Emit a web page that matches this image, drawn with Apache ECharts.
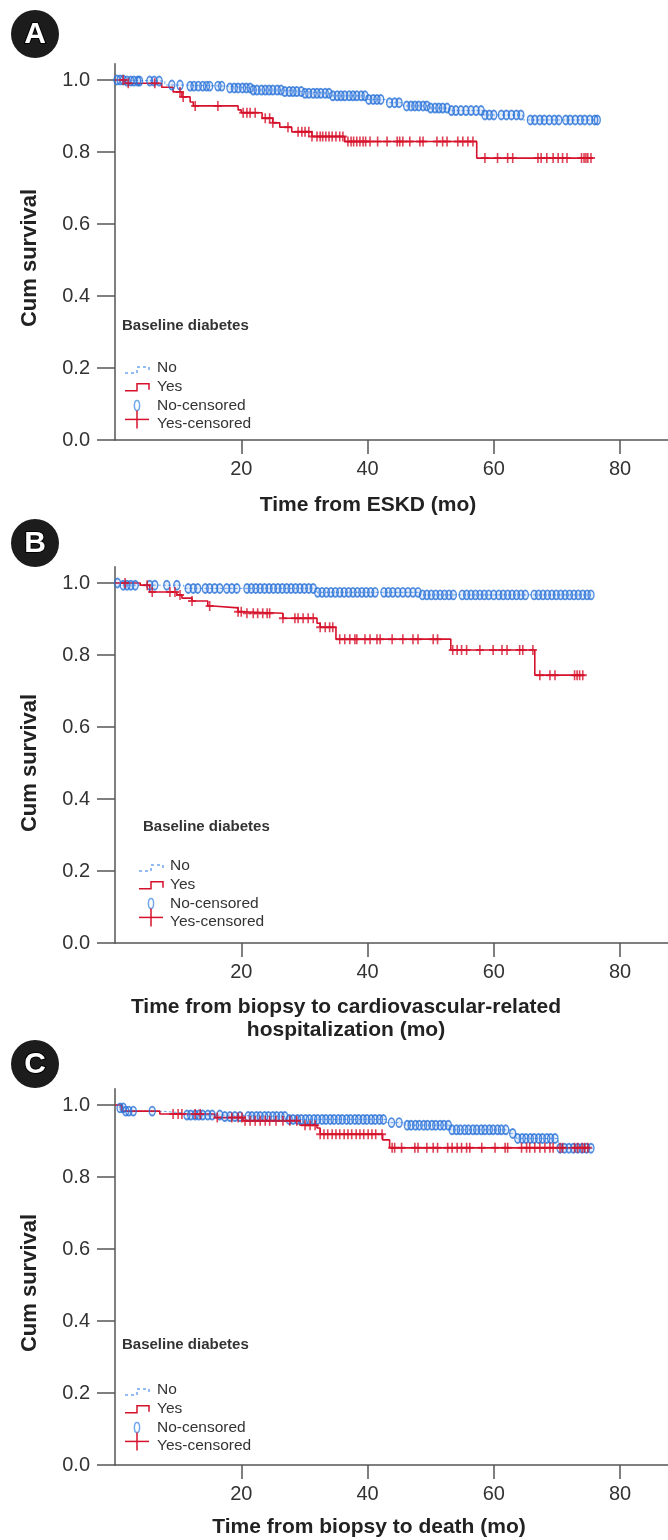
<!DOCTYPE html>
<html>
<head>
<meta charset="utf-8">
<script src="https://cdn.jsdelivr.net/npm/echarts@6/dist/echarts.min.js"></script>
<style>
  html, body { margin: 0; padding: 0; background: #fff; }
  #chart { width: 668px; height: 1540px; }
</style>
</head>
<body>
<div id="chart"></div>
<script>
// ---- data (time in months, cumulative survival) ----
const xTicks = [20, 40, 60, 80];
const yTicks = [0, 0.2, 0.4, 0.6, 0.8, 1.0];
const legendItems = ['No', 'Yes', 'No-censored', 'Yes-censored'];
const legendTitle = 'Baseline diabetes';
const panelLetters = ['A', 'B', 'C'];
const xTitles = ['Time from ESKD (mo)', 'Time from biopsy to cardiovascular-related\nhospitalization (mo)', 'Time from biopsy to death (mo)'];
const yTitle = 'Cum survival';

// A: ESKD
const aYesT = [0, 1.6, 7.4, 9.2, 10.6, 11.9, 12.4, 19.5, 20.0, 23.3, 25.0, 26.1, 28.0, 31.2, 36.4, 57.3, 75.7];
const aYesS = [1.0, 0.991, 0.980, 0.967, 0.953, 0.939, 0.928, 0.917, 0.909, 0.894, 0.881, 0.869, 0.856, 0.843, 0.829, 0.783, 0.783];
const aYesCens = [1.3, 2.1, 6.3, 10.3, 10.8, 12.7, 16.3, 20.3, 20.9, 21.4, 22.2, 23.8, 24.5, 25.0, 27.4, 29.0, 29.6, 30.1, 30.7, 31.2,
  32.0, 32.5, 32.9, 33.4, 33.9, 34.4, 35.0, 35.6, 36.1, 36.9, 37.4, 37.8, 38.3, 38.8, 39.3, 39.7, 40.4, 41.6, 43.1, 44.7, 45.1,
  45.6, 46.7, 48.3, 48.8, 51.0, 51.9, 52.6, 54.3, 55.1, 55.9, 56.7, 58.6, 60.6, 62.2, 63.0, 67.0, 67.5, 68.4, 69.4, 70.2, 70.9,
  71.6, 73.9, 74.3, 74.6, 74.9, 75.4];
const aNoT = [0, 1.6, 7.9, 11.1, 17.6, 21.5, 26.6, 29.8, 34.0, 39.9, 43.1, 45.6, 49.9, 53.0, 58.3, 64.6, 76.5];
const aNoS = [1.0, 0.997, 0.986, 0.983, 0.978, 0.972, 0.968, 0.963, 0.956, 0.946, 0.937, 0.928, 0.922, 0.915, 0.903, 0.889, 0.889];
const aNoCens = [0.3, 0.8, 1.3, 1.9, 2.5, 3.0, 3.6, 3.9, 5.5, 6.2, 7.0, 9.0, 10.3, 11.9, 12.5, 13.2, 13.9, 14.5, 15.0, 16.3, 16.9,
  18.2, 18.9, 19.5, 20.2, 20.8, 21.4, 21.9, 22.5, 23.2, 23.8, 24.4, 25.0, 25.7, 26.3, 26.9, 27.6, 28.2, 28.8, 29.5, 30.1, 30.7,
  31.4, 32.0, 32.6, 33.3, 33.9, 34.5, 35.2, 35.8, 36.4, 37.1, 37.7, 38.3, 39.0, 39.6, 40.2, 40.9, 41.5, 42.1, 43.5, 44.3, 45.0,
  46.2, 46.9, 47.5, 48.1, 48.8, 49.4, 50.0, 50.7, 51.3, 51.9, 52.6, 53.3, 54.0, 54.8, 55.6, 56.4, 57.2, 58.0, 58.6, 59.3, 60.0,
  61.2, 62.0, 62.8, 63.6, 64.3, 65.8, 66.5, 67.3, 68.0, 68.8, 69.6, 70.3, 71.4, 72.1, 72.9, 73.7, 74.4, 75.2, 76.0, 76.4];

// B: cardiovascular-related hospitalization
const bYesT = [0, 4.0, 5.5, 9.8, 10.6, 12.2, 14.7, 15.5, 19.5, 20.3, 26.6, 32.0, 32.5, 35.0, 53.2, 66.5, 74.4];
const bYesS = [1.0, 0.994, 0.975, 0.967, 0.958, 0.950, 0.936, 0.931, 0.920, 0.916, 0.902, 0.888, 0.877, 0.844, 0.814, 0.744, 0.744];
const bYesCens = [1.6, 5.1, 5.9, 8.7, 9.5, 10.3, 12.2, 15.0, 19.5, 20.0, 20.9, 21.9, 22.6, 23.4, 24.1, 24.5, 26.6, 28.5, 29.0,
  29.8, 30.6, 31.4, 32.5, 33.3, 34.0, 34.5, 35.6, 36.4, 37.2, 38.0, 38.3, 39.6, 40.4, 41.5, 42.0, 43.9, 45.6, 47.2, 48.0, 50.4,
  51.1, 53.5, 54.2, 54.9, 55.7, 57.8, 59.9, 61.3, 62.1, 64.1, 64.6, 66.2, 67.3, 68.9, 69.7, 72.8, 73.2, 73.6, 74.1];
const bNoT = [0, 0.5, 10.9, 32.0, 48.3, 75.4];
const bNoS = [1.0, 0.994, 0.985, 0.974, 0.967, 0.967];
const bNoCens = [0.4, 1.3, 1.9, 2.5, 3.2, 5.5, 6.3, 8.2, 9.8, 11.6, 12.4, 13.1, 14.3, 15.0, 15.8, 16.6, 17.7, 18.5, 19.3,
  20.9, 21.6, 22.3, 23.0, 23.7, 24.4, 25.1, 25.8, 26.5, 27.2, 27.9, 28.6, 29.3, 30.0, 30.7, 31.4, 32.1, 32.8, 33.5, 34.2,
  34.9, 35.6, 36.3, 37.0, 37.7, 38.4, 39.1, 39.8, 40.5, 41.2, 42.6, 43.3, 44.0, 44.8, 45.6, 46.4, 47.2, 48.0, 48.7, 49.4,
  50.1, 50.8, 51.5, 52.2, 52.9, 53.6, 55.0, 55.7, 56.4, 57.1, 57.8, 58.5, 59.2, 60.0, 60.8, 61.5, 62.2, 62.9, 63.6, 64.3,
  65.0, 66.4, 67.1, 67.8, 68.5, 69.2, 69.9, 70.6, 71.3, 72.0, 72.7, 73.4, 74.1, 74.8, 75.4];

// C: death
const cYesT = [0, 1.1, 7.1, 15.8, 20.3, 29.3, 32.0, 32.5, 42.4, 43.5, 75.2];
const cYesS = [1.0, 0.983, 0.975, 0.965, 0.956, 0.944, 0.936, 0.919, 0.903, 0.881, 0.881];
const cYesCens = [9.2, 10.0, 10.6, 12.7, 13.5, 16.2, 18.5, 19.5, 20.1, 20.6, 21.4, 22.2, 23.0, 23.8, 24.5, 25.5, 26.6, 27.7,
  28.8, 30.1, 30.9, 31.7, 32.5, 33.1, 33.7, 34.4, 35.0, 35.6, 36.3, 36.9, 37.5, 38.2, 38.8, 39.4, 40.1, 40.7, 41.3, 42.3,
  43.9, 44.3, 45.4, 47.5, 48.0, 49.4, 50.4, 51.1, 52.7, 53.4, 54.2, 54.9, 55.7, 56.2, 58.1, 60.2, 61.8, 62.2, 64.4, 65.2,
  65.7, 66.5, 67.3, 68.1, 68.9, 69.4, 70.5, 70.9, 72.8, 73.3, 74.0, 74.4, 74.9];
const cNoT = [0, 0.8, 1.7, 7.0, 11.0, 17.0, 27.0, 43.0, 46.0, 53.0, 62.6, 63.6, 70.2, 75.7];
const cNoS = [1.0, 0.992, 0.983, 0.978, 0.972, 0.968, 0.960, 0.951, 0.944, 0.931, 0.921, 0.907, 0.880, 0.880];
const cNoCens = [0.8, 1.3, 1.7, 2.2, 2.9, 5.9, 11.4, 12.0, 12.7, 13.3, 13.9, 14.7, 15.4, 16.6, 17.4, 18.2, 19.0, 19.8,
  21.1, 21.7, 22.4, 23.0, 23.7, 24.3, 25.0, 25.6, 26.3, 26.9, 27.6, 28.2, 28.9, 29.5, 30.2, 30.8, 31.5, 32.1, 32.8, 33.4,
  34.1, 34.7, 35.4, 36.0, 36.7, 37.3, 38.0, 38.6, 39.3, 39.9, 40.6, 41.2, 41.9, 42.5, 43.8, 45.0, 46.3, 46.9, 47.6, 48.2,
  48.9, 49.5, 50.2, 50.8, 51.5, 52.1, 52.8, 53.4, 54.1, 54.7, 55.4, 56.0, 56.7, 57.3, 58.0, 58.6, 59.3, 59.9, 60.6, 61.2,
  61.9, 63.0, 63.8, 64.5, 65.1, 65.8, 66.4, 67.1, 67.7, 68.4, 69.0, 69.7, 70.5, 71.2, 71.9, 72.6, 73.3, 74.0, 74.7, 75.4];

const panels = [
  { yesT: aYesT, yesS: aYesS, yesC: aYesCens, noT: aNoT, noS: aNoS, noC: aNoCens },
  { yesT: bYesT, yesS: bYesS, yesC: bYesCens, noT: bNoT, noS: bNoS, noC: bNoCens },
  { yesT: cYesT, yesS: cYesS, yesC: cYesCens, noT: cNoT, noS: cNoS, noC: cNoCens },
];

// ---- layout ----
const FONT = '"Liberation Sans", Arial, Helvetica, sans-serif';
const RED = '#d6112b';
const BLUE = '#2872d8';
const LBLUE = '#70a8ee';
const AXIS = '#555';
const gridTops = [80, 583, 1105];   // pixel y of 1.0 in each panel
const unitH = 360;                  // pixels per 1.0 of survival
const yMax = 1.045;

function survAt(ts, ss, t) {
  let s = ss[0];
  for (let i = 0; i < ts.length; i++) {
    if (ts[i] <= t) s = ss[i];
  }
  return s;
}
function zip(ts, ss) { return ts.map((t, i) => [t, ss[i]]); }

const ELLIPSE = 'path://M5,0 A5,8 0 1,1 5,16 A5,8 0 1,1 5,0 Z';
const PLUS = 'path://M4,0 L6,0 L6,4 L10,4 L10,6 L6,6 L6,10 L4,10 L4,6 L0,6 L0,4 L4,4 Z';

const grids = [], xAxes = [], yAxes = [], series = [];
panels.forEach((p, i) => {
  grids.push({ left: 115, right: 0, top: gridTops[i] - (yMax - 1) * unitH, height: yMax * unitH });
  xAxes.push({
    type: 'value', gridIndex: i, min: 0, max: 87.6,
    axisLine: { show: true, lineStyle: { color: AXIS, width: 1.5 } },
    axisTick: { show: true, length: 14, customValues: xTicks, lineStyle: { color: AXIS, width: 1.5 } },
    axisLabel: { customValues: xTicks, fontSize: 20, fontFamily: FONT, color: '#333', margin: 19 },
    splitLine: { show: false }
  });
  yAxes.push({
    type: 'value', gridIndex: i, min: 0, max: yMax,
    axisLine: { show: true, lineStyle: { color: AXIS, width: 1.5 } },
    axisTick: { show: true, length: 18, customValues: yTicks, lineStyle: { color: AXIS, width: 1.5 } },
    axisLabel: { customValues: yTicks, formatter: v => v.toFixed(1), fontSize: 20, fontFamily: FONT, color: '#333', margin: 25 },
    splitLine: { show: false }
  });
  series.push({
    name: 'No', type: 'line', step: 'end', xAxisIndex: i, yAxisIndex: i,
    data: zip(p.noT, p.noS), showSymbol: false, z: 2,
    lineStyle: { color: LBLUE, width: 1, type: [3, 2] }
  });
  series.push({
    name: 'Yes', type: 'line', step: 'end', xAxisIndex: i, yAxisIndex: i,
    data: zip(p.yesT, p.yesS), showSymbol: false, z: 3,
    lineStyle: { color: RED, width: 1.6 }
  });
  series.push({
    name: 'No-censored', type: 'scatter', xAxisIndex: i, yAxisIndex: i, z: 4,
    data: p.noC.map(t => [t, survAt(p.noT, p.noS, t)]),
    symbol: ELLIPSE, symbolSize: [6, 9],
    itemStyle: { color: 'rgba(40,114,216,0.15)', borderColor: BLUE, borderWidth: 1.6 }
  });
  series.push({
    name: 'Yes-censored', type: 'scatter', xAxisIndex: i, yAxisIndex: i, z: 5,
    data: p.yesC.map(t => [t, survAt(p.yesT, p.yesS, t)]),
    symbol: PLUS, symbolSize: [8, 10],
    itemStyle: { color: RED }
  });
});

// ---- decorations: panel badges, axis titles, legends ----
const graphic = [];
const badgeY = [34, 543, 1064];
const yTitleY = [258, 763, 1283];
const xTitlePos = [[368, 505], [346, 1019], [369, 1527]];
const legendPos = [
  { tx: 122, ty: 326, ix: 125, textX: 157, y0: 368 },
  { tx: 143, ty: 827, ix: 139, textX: 170, y0: 866 },
  { tx: 122, ty: 1345, ix: 125, textX: 157, y0: 1390 },
];
const rowGap = 18.7;

panelLetters.forEach((L, i) => {
  graphic.push({ type: 'circle', shape: { cx: 35, cy: badgeY[i], r: 24 }, style: { fill: '#1c1c1c' } });
  graphic.push({ type: 'text', x: 35, y: badgeY[i] + 1, style: {
    text: L, fill: '#fff', stroke: '#000', lineWidth: 2, align: 'center', verticalAlign: 'middle',
    font: 'bold 30px ' + FONT } });
  graphic.push({ type: 'text', x: 30, y: yTitleY[i], rotation: Math.PI / 2, style: {
    text: yTitle, fill: '#222', align: 'center', verticalAlign: 'middle', font: 'bold 22px ' + FONT } });
  graphic.push({ type: 'text', x: xTitlePos[i][0], y: xTitlePos[i][1], style: {
    text: xTitles[i], fill: '#222', align: 'center', verticalAlign: 'middle', lineHeight: 23, font: 'bold 21px ' + FONT } });

  const lg = legendPos[i];
  graphic.push({ type: 'text', x: lg.tx, y: lg.ty, style: {
    text: legendTitle, fill: '#333', align: 'left', verticalAlign: 'middle', font: 'bold 15px ' + FONT } });
  legendItems.forEach((name, k) => {
    graphic.push({ type: 'text', x: lg.textX, y: lg.y0 + k * rowGap, style: {
      text: name, fill: '#333', align: 'left', verticalAlign: 'middle', font: '15.5px ' + FONT } });
  });
  const x = lg.ix, y = lg.y0;
  graphic.push({ type: 'polyline', shape: { points: [[x, y + 5], [x + 12, y + 5], [x + 12, y - 1], [x + 24, y - 1], [x + 24, y + 3]] },
    style: { stroke: LBLUE, lineWidth: 1.5, fill: null, lineDash: [3, 3] } });
  const y2 = y + rowGap;
  graphic.push({ type: 'polyline', shape: { points: [[x, y2 + 4], [x + 12, y2 + 4], [x + 12, y2 - 3], [x + 24, y2 - 3], [x + 24, y2 + 3]] },
    style: { stroke: RED, lineWidth: 1.5, fill: null } });
  const y3 = y + 2 * rowGap;
  graphic.push({ type: 'ellipse', shape: { cx: x + 12, cy: y3, rx: 2.6, ry: 5 },
    style: { stroke: LBLUE, lineWidth: 1.5, fill: null } });
  const y4 = y + 2.75 * rowGap;
  graphic.push({ type: 'polyline', shape: { points: [[x, y4], [x + 24, y4]] }, style: { stroke: RED, lineWidth: 1.5, fill: null } });
  graphic.push({ type: 'polyline', shape: { points: [[x + 12, y4 - 9], [x + 12, y4 + 9]] }, style: { stroke: RED, lineWidth: 1.5, fill: null } });
});

const chart = echarts.init(document.getElementById('chart'));
chart.setOption({
  animation: false,
  grid: grids,
  xAxis: xAxes,
  yAxis: yAxes,
  series: series,
  graphic: graphic
});
</script>
</body>
</html>
